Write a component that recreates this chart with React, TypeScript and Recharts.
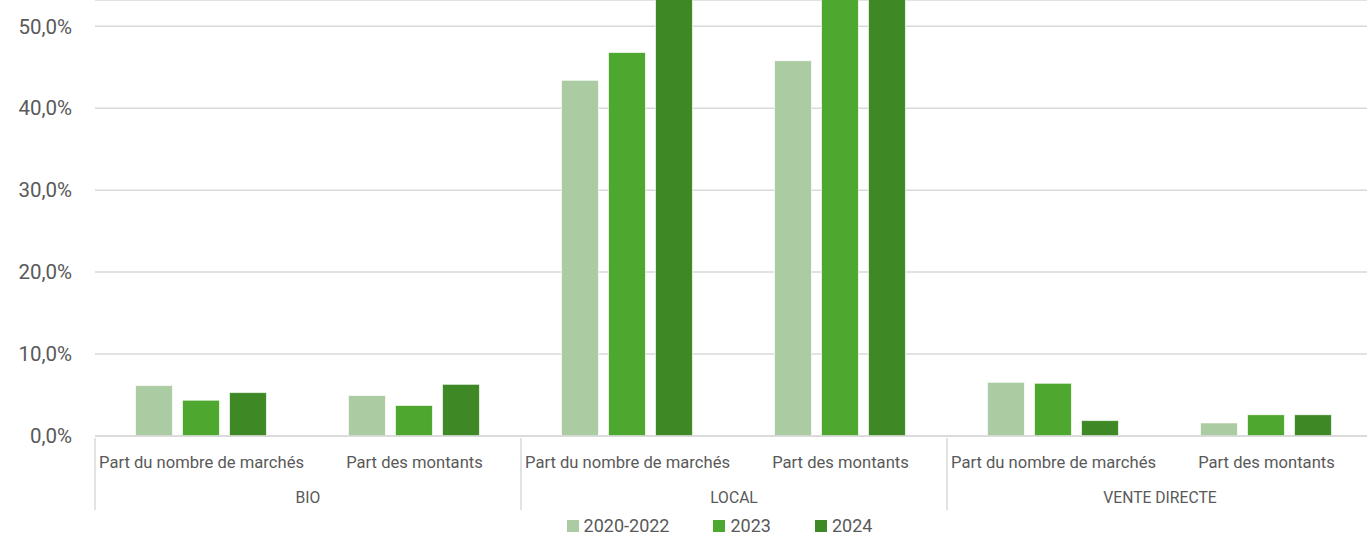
import React from "react";
import { BarChart, Bar, XAxis, YAxis, CartesianGrid, Legend } from "recharts";

const categories = [
  "Part du nombre de marchés",
  "Part des montants",
  "Part du nombre de marchés",
  "Part des montants",
  "Part du nombre de marchés",
  "Part des montants",
];
const groups = ["BIO", "BIO", "LOCAL", "LOCAL", "VENTE DIRECTE", "VENTE DIRECTE"];
const series2020 = [6.15, 4.94, 43.4, 45.8, 6.55, 1.6];
const series2023 = [4.37, 3.73, 46.8, 58.0, 6.43, 2.6];
const series2024 = [5.3, 6.3, 57.0, 60.0, 1.88, 2.6];
const yTicks = [0, 10, 20, 30, 40, 50];
const seriesNames = ["2020-2022", "2023", "2024"];
const colors = ["#ABCBA2", "#4EA72E", "#3E8925"];

const data = categories.map((name, i) => ({
  name,
  group: groups[i],
  s2020: series2020[i],
  s2023: series2023[i],
  s2024: series2024[i],
}));

const W = 1373;
const H = 535;
const LEFT = 95;
const CAT_W = (W - LEFT) / categories.length;
const FONT = "Roboto, 'Open Sans', sans-serif";
const TEXT = "#595959";
const LINE = "#d9d9d9";

function CategoryTick(props: any) {
  const { x, y, payload } = props;
  const i = payload.index;
  const left = x - CAT_W / 2;
  return (
    <g>
      <text x={x} y={y + 24} textAnchor="middle" fontSize={16.6} fill={TEXT} fontFamily={FONT}>
        {payload.value}
      </text>
      {i % 2 === 0 && (
        <line x1={left} x2={left} y1={y - 6} y2={y + 66} stroke={LINE} strokeWidth={1.5} />
      )}
      {i === categories.length - 1 && (
        <line x1={x + CAT_W / 2} x2={x + CAT_W / 2} y1={y - 6} y2={y + 66} stroke={LINE} strokeWidth={1.5} />
      )}
      {i % 2 === 1 && (
        <text x={left} y={y + 59} textAnchor="middle" fontSize={15.7} fill={TEXT} fontFamily={FONT}>
          {groups[i]}
        </text>
      )}
    </g>
  );
}

function LegendContent() {
  return (
    <div
      style={{
        display: "flex",
        justifyContent: "center",
        paddingLeft: 66,
        marginTop: 6,
        fontFamily: FONT,
        fontSize: 18,
        lineHeight: "18px",
        color: TEXT,
      }}
    >
      {seriesNames.map((n, i) => (
        <div key={n} style={{ display: "flex", alignItems: "center", margin: "0 22px" }}>
          <span style={{ width: 12, height: 12, background: colors[i], marginRight: 5, display: "inline-block" }} />
          <span>{n}</span>
        </div>
      ))}
    </div>
  );
}

export default function App() {
  return (
    <div style={{ position: "absolute", left: 0, top: 0, width: 1367, height: H, overflow: "hidden", background: "#fff" }}>
      <BarChart
        width={W}
        height={H}
        data={data}
        margin={{ top: 0, right: 0, bottom: 0, left: 0 }}
        barCategoryGap="19%"
        barGap={10}
      >
        <CartesianGrid vertical={false} stroke={LINE} strokeWidth={1.5} />
        <XAxis
          dataKey="name"
          interval={0}
          height={75}
          axisLine={{ stroke: LINE, strokeWidth: 1.5 }}
          tickLine={false}
          tick={<CategoryTick />}
        />
        <YAxis
          width={LEFT}
          domain={[0, 53.2]}
          ticks={yTicks}
          allowDataOverflow
          axisLine={false}
          tickLine={false}
          tickMargin={17}
          tick={{ fontSize: 20.5, fill: TEXT, fontFamily: FONT }}
          tickFormatter={(v) => `${Number(v).toFixed(1).replace(".", ",")}%`}
        />
        <Legend verticalAlign="bottom" height={24} content={<LegendContent />} />
        <Bar dataKey="s2020" name={seriesNames[0]} fill={colors[0]} stroke="#fff" strokeWidth={0.7} isAnimationActive={false} />
        <Bar dataKey="s2023" name={seriesNames[1]} fill={colors[1]} stroke="#fff" strokeWidth={0.7} isAnimationActive={false} />
        <Bar dataKey="s2024" name={seriesNames[2]} fill={colors[2]} stroke="#fff" strokeWidth={0.7} isAnimationActive={false} />
      </BarChart>
    </div>
  );
}
